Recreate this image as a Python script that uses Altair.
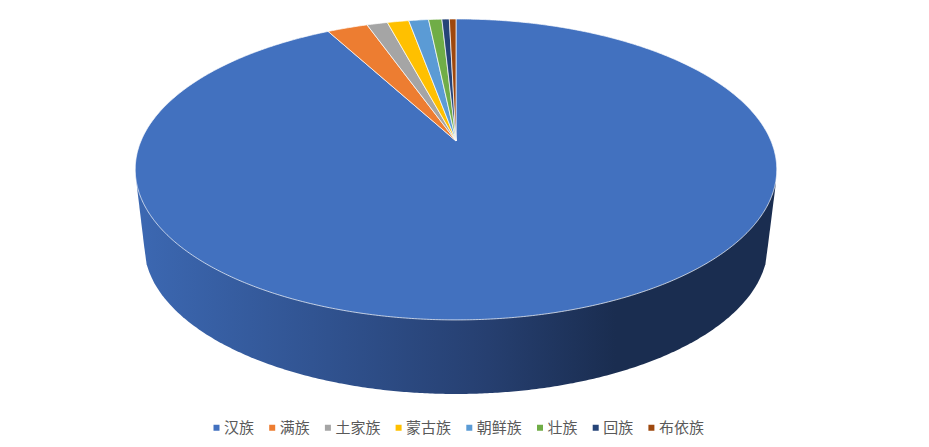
import numpy as np
import pandas as pd
import altair as alt

categories = ["汉族", "满族", "土家族", "蒙古族", "朝鲜族", "壮族", "回族", "布依族"]
values = [92.15, 2.45, 1.25, 1.3, 1.2, 0.8, 0.45, 0.4]
colors = ["#4271BF", "#ED7D31", "#A5A5A5", "#FFC000", "#5B9BD5", "#70AD47", "#264478", "#9E480E"]

# perspective view of the pie: apex position and projection constants
AX, AY = 456.0, 141.0
K, A, C = 0.189, 145.1, 315.0


def project(theta):
    u, v = np.sin(theta), np.cos(theta)
    w = 1 + K * v
    return AX + C * u / w, AY - A * v / w


rows = []
start = 0.0
total = sum(values)
for cat, val in zip(categories, values):
    t0 = start / total * 2 * np.pi
    t1 = (start + val) / total * 2 * np.pi
    rows.append(dict(name=cat, px=AX, py=AY, i=0))
    n = max(3, int(val * 8))
    for j, t in enumerate(np.linspace(t0, t1, n)):
        px, py = project(t)
        rows.append(dict(name=cat, px=float(px), py=float(py), i=j + 1))
    start += val
wedges = pd.DataFrame(rows)

# side wall of the disc
BX, BY, BRX, BRY = 456.0, 245.0, 312.0, 149.0
xs = np.linspace(BX - BRX, BX + BRX, 241)
ys = BY + BRY * np.sqrt(np.clip(1 - ((xs - BX) / BRX) ** 2, 0, 1))
wall = pd.DataFrame(
    {
        "px": np.r_[136.5, xs, 775.5],
        "py": np.r_[183.0, ys, 186.0],
        "py2": 170.0,
    }
)

x_scale = alt.Scale(domain=[8, 921], range=[0, 913], nice=False, zero=False)
y_scale = alt.Scale(domain=[8, 439], range=[0, 431], nice=False, zero=False)

wall_layer = (
    alt.Chart(wall)
    .mark_area(
        interpolate="linear",
        color=alt.Gradient(
            gradient="linear",
            x1=0, x2=1, y1=0, y2=0,
            stops=[
                alt.GradientStop(offset=0, color="#3C68B2"),
                alt.GradientStop(offset=0.3, color="#30528F"),
                alt.GradientStop(offset=0.55, color="#263F70"),
                alt.GradientStop(offset=0.75, color="#1A2D50"),
                alt.GradientStop(offset=1, color="#1A2D50"),
            ],
        ),
    )
    .encode(
        x=alt.X("px:Q", scale=x_scale, axis=None),
        y=alt.Y("py:Q", scale=y_scale, axis=None),
        y2="py2:Q",
    )
)

wedge_layer = (
    alt.Chart(wedges)
    .mark_line(interpolate="linear-closed", stroke="white", strokeWidth=0.7, strokeJoin="round")
    .encode(
        x=alt.X("px:Q", scale=x_scale, axis=None),
        y=alt.Y("py:Q", scale=y_scale, axis=None),
        order=alt.Order("i:Q"),
        fill=alt.Fill(
            "name:N",
            scale=alt.Scale(domain=categories, range=colors),
            sort=categories,
            legend=alt.Legend(
                title=None,
                orient="none",
                direction="horizontal",
                legendX=201,
                legendY=412,
                columns=8,
                symbolType="square",
                symbolSize=36,
                symbolStrokeWidth=0,
                labelFont="Noto Sans CJK SC",
                labelFontSize=15,
                labelColor="#595959",
                labelOffset=0,
                columnPadding=9.7,
            ),
        ),
    )
)

chart = (
    alt.layer(wall_layer, wedge_layer)
    .properties(width=913, height=431, background="white", padding=0, autosize=alt.AutoSizeParams(type="none"))
    .configure_view(stroke=None)
)

chart.save("out.html", embed_options={"renderer": "svg", "actions": False})
